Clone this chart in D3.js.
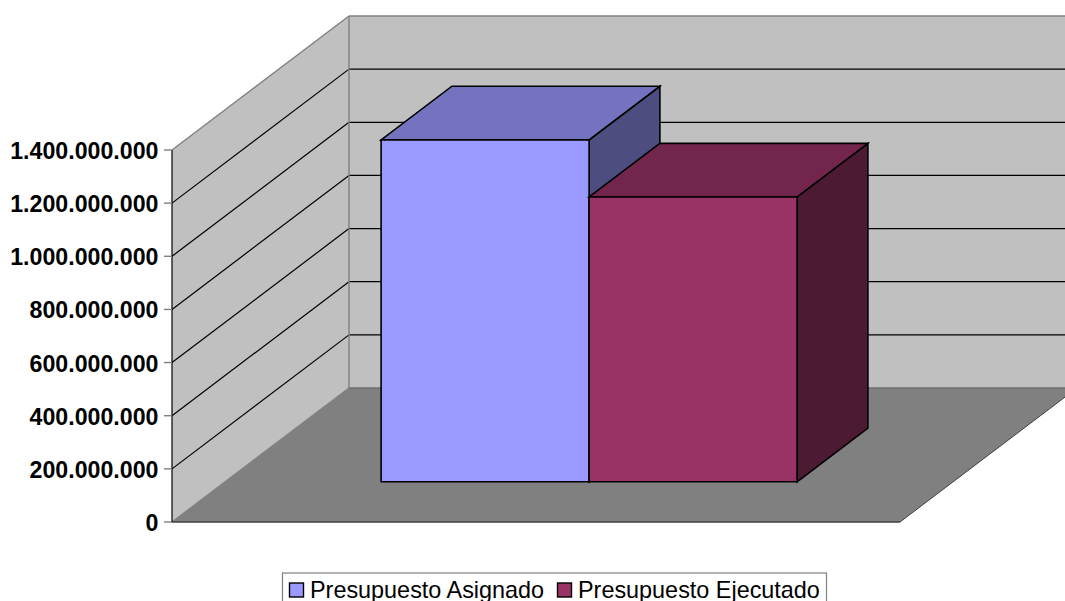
<!DOCTYPE html>
<html><head><meta charset="utf-8">
<script src="https://cdn.jsdelivr.net/npm/d3@7"></script>
<style>html,body{margin:0;padding:0;background:#fff;overflow:hidden}svg{display:block}text{font-family:"Liberation Sans",Arial,sans-serif}</style>
</head><body><svg id="c" width="1065" height="601"></svg>
<script>
const categories = ["Presupuesto Asignado", "Presupuesto Ejecutado"];
const seriesValues = [1287000000, 1072000000];
const frontColors = ["#9999ff", "#993366"];
const topColors = ["#7373bf", "#73264d"];
const sideColors = ["#4d4d80", "#4d1a33"];
const yTicks = [0, 200000000, 400000000, 600000000, 800000000, 1000000000, 1200000000, 1400000000];

const svg = d3.select("#c");
const y = d3.scaleLinear().domain([0, 1400000000]).range([522, 150]);
const x = d3.scaleBand().domain(categories).range([328, 744]);
const dx = d3.scaleLinear().domain([0, 1]).range([0, 177]);
const dy = d3.scaleLinear().domain([0, 1]).range([0, -134]);
const xLeft = 172, xRight = 900;
const label = v => d3.format(",")(v).replace(/,/g, ".");
const P = (px, v, z) => [px + dx(z), y(v) + dy(z)];
const line = d3.line();
const poly = (pts, fill, stroke, w) => svg.append("path").attr("d", line(pts) + "Z")
  .attr("fill", fill).attr("stroke", stroke || "none").attr("stroke-width", w || 1).attr("stroke-linejoin", "miter");
const seg = (a, b, stroke, w) => svg.append("line").attr("x1", a[0]).attr("y1", a[1]).attr("x2", b[0]).attr("y2", b[1])
  .attr("stroke", stroke).attr("stroke-width", w || 1);

const yMax = y.domain()[1];
// walls and floor
poly([P(xLeft,0,1), P(xRight,0,1), P(xRight,yMax,1), P(xLeft,yMax,1)], "#c0c0c0");
poly([P(xLeft,0,0), P(xLeft,0,1), P(xLeft,yMax,1), P(xLeft,yMax,0)], "#c0c0c0");
poly([P(xLeft,0,0), P(xRight,0,0), P(xRight,0,1), P(xLeft,0,1)], "#808080");
// gridlines
yTicks.slice(1, -1).forEach(v => {
  seg(P(xLeft,v,0), P(xLeft,v,1), "#000", 1.2);
  seg(P(xLeft,v,1), P(xRight,v,1), "#000", 1.2);
});
// wall outlines
seg(P(xLeft,yMax,0), P(xLeft,yMax,1), "#808080", 1.4);
seg(P(xLeft,yMax,1), P(xRight,yMax,1), "#808080", 1.4);
seg(P(xLeft,0,1), P(xLeft,yMax,1), "#808080", 1.4);
seg(P(xLeft,0,1), P(xRight,0,1), "#6e6e6e", 1.4);
seg(P(xLeft,0,0), P(xLeft,0,1), "#808080", 1.4);
seg(P(xLeft,0,0), P(xRight,0,0), "#404040", 1.4);
seg(P(xRight,0,0), P(xRight,0,1), "#404040", 1);
// axis
seg(P(xLeft,0,0), P(xLeft,yMax,0), "#000", 1.2);
yTicks.forEach(v => {
  seg([xLeft - 8, y(v)], [xLeft, y(v)], "#808080", 1.4);
  svg.append("text").attr("x", 158.5).attr("y", y(v)).attr("dy", "0.39em").attr("text-anchor", "end")
    .attr("font-size", 23.2).attr("font-weight", "bold").attr("fill", "#000").text(label(v));
});
// bars
const z0 = 0.3, z1 = 0.7;
categories.forEach((c, i) => {
  const a = x(c), b = a + x.bandwidth(), v = seriesValues[i];
  poly([P(b,0,z0), P(b,0,z1), P(b,v,z1), P(b,v,z0)], sideColors[i], "#000", 1.6);
  poly([P(a,v,z0), P(b,v,z0), P(b,v,z1), P(a,v,z1)], topColors[i], "#000", 1.6);
  poly([P(a,0,z0), P(b,0,z0), P(b,v,z0), P(a,v,z0)], frontColors[i], "#000", 1.6);
});
// legend
const lg = svg.append("g");
lg.append("rect").attr("x", 282.5).attr("y", 573).attr("width", 544).attr("height", 40).attr("fill", "#fff").attr("stroke", "#808080").attr("stroke-width", 1.2);
const swX = [289, 557], txX = [310, 578];
categories.forEach((c, i) => {
  lg.append("rect").attr("x", swX[i] + .5).attr("y", 583).attr("width", 14).attr("height", 14).attr("fill", frontColors[i]).attr("stroke", "#000").attr("stroke-width", 1.4);
  lg.append("text").attr("x", txX[i]).attr("y", 597.5).attr("font-size", 23.4).attr("fill", "#000").text(c);
});
</script></body></html>
